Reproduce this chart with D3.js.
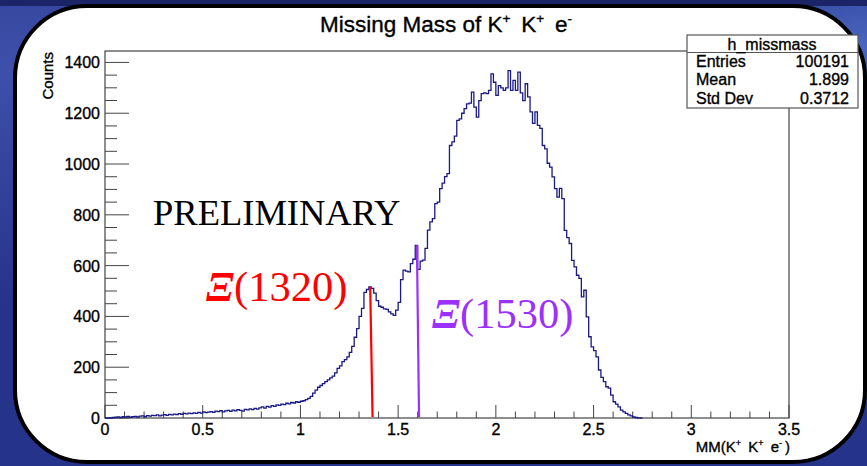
<!DOCTYPE html>
<html>
<head>
<meta charset="utf-8">
<script src="https://cdn.jsdelivr.net/npm/d3@7"></script>
<style>
body { margin: 0; background: #28368c; }
svg { display: block; }
.lbl { stroke: #000; stroke-width: 0.35px; }
</style>
</head>
<body>
<div id="main"></div>
<script>
// histogram of missing mass, bins of 0.0125 starting at 0
var binWidth = 0.0125;
var counts = [
	0,0,0,2, 3,4,2,5,4,6,3,5,
	6,4,7,8,5,9,7,10,
	9,12,8,11,13,10,14,12,
	15,13,17,14,18,16,19,17,
	20,18,22,19,24,21,23,25,
	22,27,25,29,24,28,30,26,
	31,28,33,30,27,34,32,36,
	33,38,35,40,44,39,46,43,
	49,46,52,50,55,53,58,56,
	61,59,64,62,
	66,68,72,77,85,98,110,121,
	128,135,143,150,158,165,178,195,
	205,222,230,241,258,282,318,352,
	400,432,495,506,516,510,492,462,
	440,436,430,428,418,410,404,425,
	455,545,582,578,575,608,625,680,
	585,618,622,668,740,772,785,844,
	850,903,925,950,962,1073,1087,1110,
	1172,1178,1200,1218,1237,1240,1283,1224,
	1185,1250,1277,1280,1277,1290,1355,1322,
	1270,1309,1300,1290,1300,1368,1290,1329,
	1290,1362,1280,1250,1316,1264,1205,1160,
	1205,1152,1140,1073,1060,1003,988,949,
	903,870,904,864,739,710,687,621,
	595,562,550,477,503,398,320,280,
	265,241,189,160,143,123,118,90,
	64,55,44,31,24,18,12,8,
	4,2,0,0
];
var xTicks = [0, 0.5, 1, 1.5, 2, 2.5, 3, 3.5];
var yTicks = [0, 200, 400, 600, 800, 1000, 1200, 1400];
var statNames = ['Entries', 'Mean', 'Std Dev'];
var statValues = ['100191', '1.899', '0.3712'];
var peakNames = ['(1320)', '(1530)'];
// marker lines [x top, count top, x bottom]
var peakLines = [[1.357, 516, 1.369], [1.596, 680, 1.607]];
var peakColors = ['#ff0000', '#9b30ff'];

var W = 867, H = 466;
var svg = d3.select('#main').append('svg')
	.attr('width', W)
	.attr('height', H);

var defs = svg.append('defs');
var g1 = defs.append('radialGradient').attr('id', 'bgl')
	.attr('cx', 0.02).attr('cy', 0.15).attr('r', 0.5);
g1.append('stop').attr('offset', 0).attr('stop-color', '#3e50aa');
g1.append('stop').attr('offset', 1).attr('stop-color', '#26338a');
var g2 = defs.append('radialGradient').attr('id', 'bgr')
	.attr('cx', 1).attr('cy', 0.1).attr('r', 0.25);
g2.append('stop').attr('offset', 0).attr('stop-color', '#4a66c0').attr('stop-opacity', 1);
g2.append('stop').attr('offset', 1).attr('stop-color', '#4a66c0').attr('stop-opacity', 0);
svg.append('rect').attr('width', W).attr('height', H).attr('fill', 'url(#bgl)');
svg.append('rect').attr('width', W).attr('height', H).attr('fill', 'url(#bgr)');
svg.append('rect').attr('width', W).attr('height', 6).attr('fill', '#1b2466');

// white panel
svg.append('rect')
	.attr('x', 15).attr('y', 6)
	.attr('width', 850).attr('height', 456)
	.attr('rx', 72).attr('ry', 72)
	.attr('fill', '#fff')
	.attr('stroke', '#000')
	.attr('stroke-width', 4);

var x = d3.scaleLinear().domain([0, 3.5]).range([105, 789]);
var y = d3.scaleLinear().domain([0, 1445]).range([418, 51]);

// frame
svg.append('rect')
	.attr('x', x(0)).attr('y', y(1445))
	.attr('width', x(3.5) - x(0)).attr('height', y(0) - y(1445))
	.attr('fill', 'none').attr('stroke', '#444').attr('stroke-width', 1.2);

// ticks (ROOT style, inside the frame)
var xMinor = d3.range(0, 36).map(function(i){ return i / 10; });
svg.append('g').selectAll('line').data(xMinor).enter().append('line')
	.attr('x1', function(d){ return x(d); })
	.attr('x2', function(d){ return x(d); })
	.attr('y1', y(0))
	.attr('y2', function(d, i){ return y(0) - (i % 5 == 0 ? 13 : 6.5); })
	.attr('stroke', '#444');
var yMinor = d3.range(0, 29).map(function(i){ return i * 50; });
svg.append('g').selectAll('line').data(yMinor).enter().append('line')
	.attr('x1', x(0))
	.attr('x2', function(d, i){ return x(0) + (i % 4 == 0 ? 24 : 12); })
	.attr('y1', function(d){ return y(d); })
	.attr('y2', function(d){ return y(d); })
	.attr('stroke', '#444');

var font = 'Liberation Sans, Arial, sans-serif';
svg.append('g').selectAll('text').data(xTicks).enter().append('text')
	.attr('class', 'lbl')
	.attr('x', function(d){ return x(d); })
	.attr('y', 435)
	.attr('text-anchor', 'middle')
	.style('font', '16px ' + font)
	.text(function(d){ return d; });
svg.append('g').selectAll('text').data(yTicks).enter().append('text')
	.attr('class', 'lbl')
	.attr('x', 100)
	.attr('y', function(d){ return y(d) + 6; })
	.attr('text-anchor', 'end')
	.style('font', '16px ' + font)
	.text(function(d){ return d; });

// axis titles
svg.append('text')
	.attr('class', 'lbl')
	.attr('transform', 'translate(53,52) rotate(-90)')
	.attr('text-anchor', 'end')
	.style('font', '15px ' + font)
	.text('Counts');

function supText(t, parts, size){
	parts.forEach(function(p){
		var s = t.append('tspan').text(p[0]);
		if(p[1]){
			s.attr('dy', -size * 0.42).style('font-size', (size * 0.6) + 'px');
			t.append('tspan').attr('dy', size * 0.42).text('\u2009');
		}
	});
}
var xt = svg.append('text')
	.attr('class', 'lbl')
	.attr('x', 790).attr('y', 452)
	.attr('text-anchor', 'end')
	.style('font', '15px ' + font);
supText(xt, [['MM(K'], ['+', 1], [' K'], ['+', 1], [' e'], ['-', 1], [')']], 15);

var tt = svg.append('text')
	.attr('class', 'lbl')
	.attr('x', 320).attr('y', 32)
	.style('font', '22.5px ' + font);
supText(tt, [['Missing Mass of K'], ['+', 1], [' K'], ['+', 1], [' e'], ['-', 1]], 22.5);

// histogram outline
var pts = counts.map(function(c, i){ return [i * binWidth, c]; });
pts.push([counts.length * binWidth, 0]);
var line = d3.line()
	.x(function(d){ return x(d[0]); })
	.y(function(d){ return y(d[1]); })
	.curve(d3.curveStepAfter);
svg.append('path')
	.datum(pts)
	.attr('d', line)
	.attr('fill', 'none')
	.attr('stroke', '#1a1a85')
	.attr('stroke-width', 1.3);

// peak markers
svg.append('g').selectAll('line').data(peakLines).enter().append('line')
	.attr('x1', function(d){ return x(d[0]); })
	.attr('y1', function(d){ return y(d[1]); })
	.attr('x2', function(d){ return x(d[2]); })
	.attr('y2', y(0) - 1)
	.attr('stroke', function(d, i){ return peakColors[i]; })
	.attr('stroke-width', 2.2);

var serif = 'Liberation Serif, Times New Roman, serif';
svg.append('text')
	.attr('x', 153).attr('y', 225)
	.style('font', '36.5px ' + serif)
	.text('PRELIMINARY');

var peakPos = [[206, 301], [432, 328]];
peakNames.forEach(function(n, i){
	var t = svg.append('text')
		.attr('x', peakPos[i][0]).attr('y', peakPos[i][1])
		.style('font', '42.5px ' + serif)
		.attr('fill', peakColors[i]);
	t.append('tspan').style('font-weight', 'bold').style('font-style', 'italic').text('\u039E');
	t.append('tspan').text(n);
});

// stats box
var box = svg.append('g');
box.append('rect')
	.attr('x', 687).attr('y', 35).attr('width', 171).attr('height', 73)
	.attr('fill', '#fff').attr('stroke', '#555').attr('stroke-width', 1.2);
box.append('line')
	.attr('x1', 687).attr('x2', 858).attr('y1', 52.5).attr('y2', 52.5)
	.attr('stroke', '#555').attr('stroke-width', 1.2);
box.append('text')
	.attr('class', 'lbl')
	.attr('x', 772).attr('y', 49.5)
	.attr('text-anchor', 'middle')
	.style('font', '16px ' + font)
	.text('h_missmass');
statNames.forEach(function(n, i){
	box.append('text').attr('class', 'lbl').attr('x', 696).attr('y', 67 + i * 18.3)
		.style('font', '16px ' + font).text(n);
	box.append('text').attr('class', 'lbl').attr('x', 849).attr('y', 67 + i * 18.3)
		.attr('text-anchor', 'end')
		.style('font', '16px ' + font).text(statValues[i]);
});
</script>
</body>
</html>
